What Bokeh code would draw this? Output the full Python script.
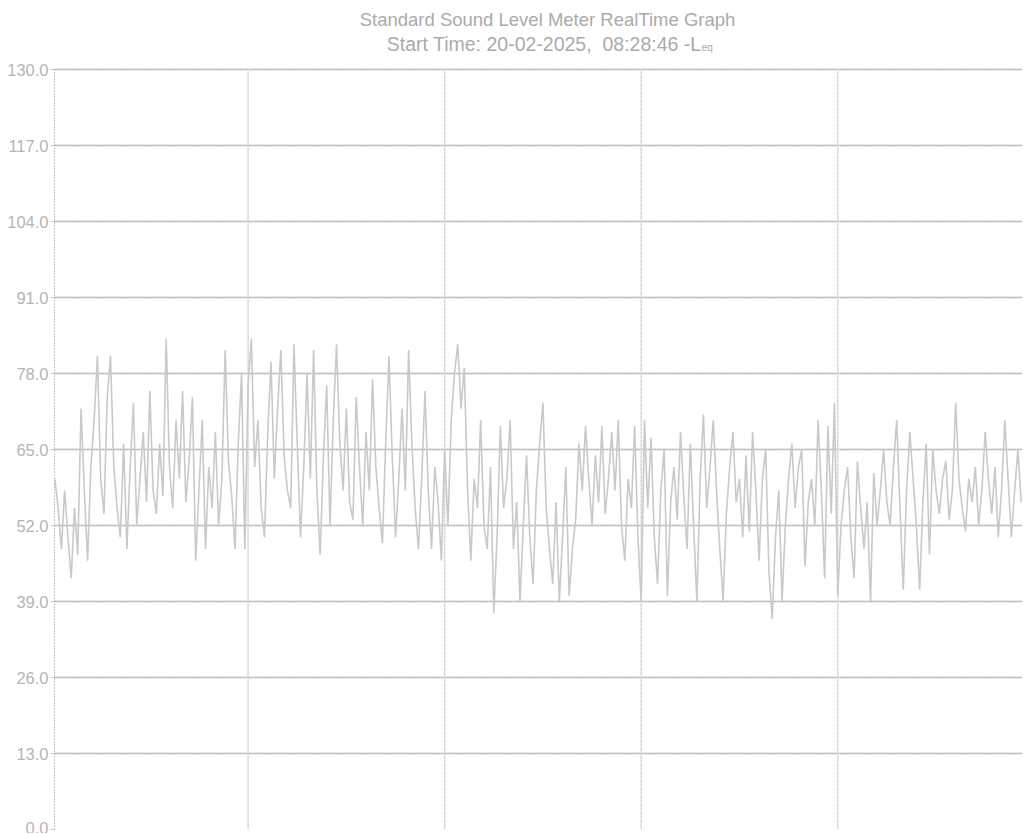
from bokeh.plotting import figure
from bokeh.models import Range1d, FixedTicker, PrintfTickFormatter, Grid
from bokeh.core.properties import value
from bokeh.embed import file_html
from bokeh.resources import INLINE

# ---- data ----
title_line1 = "Standard Sound Level Meter RealTime Graph"
title_line2 = "Start Time: 20-02-2025,\u00a0 08:28:46 -L"
title_sub = "eq"

y_ticks = [0, 13, 26, 39, 52, 65, 78, 91, 104, 117, 130]
x_grid = [60, 120, 180, 240]

leq = [
    # 1-60
    60, 55, 48, 58, 50, 43, 55, 47, 72, 58, 46, 62, 70, 81, 60, 54, 74, 81, 62, 55,
    50, 66, 48, 62, 73, 52, 60, 68, 56, 75, 58, 54, 66, 57, 84, 62, 55, 70, 60, 75,
    56, 63, 74, 46, 58, 70, 48, 62, 55, 68, 52, 60, 82, 63, 57, 48, 66, 78, 48, 76,
    # 61-120
    84, 62, 70, 55, 50, 68, 80, 60, 72, 82, 64, 58, 55, 83, 66, 50, 62, 78, 60, 82,
    58, 47, 64, 76, 52, 70, 83, 66, 58, 72, 56, 53, 74, 62, 52, 68, 58, 77, 62, 55,
    49, 66, 81, 64, 50, 60, 72, 58, 82, 66, 55, 48, 60, 75, 58, 48, 62, 56, 46, 65,
    # 121-180
    52, 70, 78, 83, 72, 79, 58, 46, 60, 55, 70, 52, 48, 62, 37, 50, 69, 55, 60, 70,
    48, 56, 39, 52, 64, 50, 42, 58, 66, 73, 55, 48, 42, 56, 39, 50, 62, 40, 48, 53,
    66, 58, 69, 60, 52, 64, 56, 69, 54, 60, 68, 58, 70, 52, 46, 60, 55, 69, 50, 39,
    # 181-240
    70, 55, 67, 50, 42, 58, 65, 40, 56, 62, 53, 68, 57, 48, 66, 52, 39, 60, 71, 55,
    62, 70, 58, 48, 39, 54, 62, 68, 56, 60, 50, 64, 51, 68, 58, 46, 60, 65, 44, 36,
    50, 58, 39, 52, 60, 66, 55, 62, 65, 45, 56, 60, 52, 70, 58, 43, 69, 54, 73, 40,
    # 241-296
    52, 58, 62, 50, 43, 63, 55, 48, 56, 39, 61, 52, 58, 65, 56, 52, 62, 70, 55, 41,
    58, 68, 60, 52, 41, 56, 66, 47, 65, 58, 54, 60, 63, 53, 58, 73, 60, 55, 51, 60,
    56, 62, 52, 58, 68, 60, 54, 62, 50, 58, 70, 60, 50, 58, 65, 56,
]
t = list(range(1, len(leq) + 1))

y_lo, y_hi = y_ticks[0], y_ticks[-1]

# ---- figure (range extends above 130 to hold the two title lines) ----
p = figure(width=1022, height=833, output_backend="svg", toolbar_location=None,
           x_range=Range1d(0.9, 296.4), y_range=Range1d(0, 140.1),
           min_border_left=54, min_border_right=0, min_border_top=10,
           min_border_bottom=4, background_fill_color="white",
           border_fill_color="white")
p.outline_line_color = None
p.xaxis.visible = False

yax = p.yaxis[0]
yax.bounds = (y_lo, y_hi)
yax.ticker = FixedTicker(ticks=y_ticks)
yax.formatter = PrintfTickFormatter(format="%.1f")
yax.major_label_text_font = "Liberation Sans"
yax.major_label_text_font_size = "16.5px"
yax.major_label_text_color = "#b4b4b4"
yax.major_label_standoff = 2
yax.major_tick_out = 4
yax.major_tick_in = 0
yax.major_tick_line_color = "#c8c8c8"
yax.minor_tick_line_color = None
yax.axis_line_color = "#8a8a8a"
yax.axis_line_dash = "1 2"
yax.axis_line_width = 1

# horizontal grid: light grey band plus fine dark dots
p.ygrid.ticker = FixedTicker(ticks=y_ticks)
p.ygrid.grid_line_color = "#d6d6d6"
p.ygrid.grid_line_width = 2
p.add_layout(Grid(dimension=1, ticker=FixedTicker(ticks=y_ticks),
                  grid_line_color="#6a6a6a", grid_line_dash="1 2",
                  grid_line_width=1, grid_line_alpha=0.55))

# vertical grid lines, only within the 0..130 band
p.xgrid.visible = False
n = len(x_grid)
p.segment(x0=x_grid, y0=[y_lo] * n, x1=x_grid, y1=[y_hi] * n,
          line_color="#e2e2e2", line_width=1.5)
p.segment(x0=x_grid, y0=[y_lo] * n, x1=x_grid, y1=[y_hi] * n,
          line_color="#9a9a9a", line_width=1, line_dash="1 3", line_alpha=0.5)

# trace
p.line(t, leq, line_color="#c9c9c9", line_width=1.6)

# titles
common = dict(text_font=value("Liberation Sans"), text_color="#ababab",
              text_baseline="alphabetic")
p.text(x=[151.4], y=[138.6], text=[title_line1], text_align="center",
       text_font_size="18.5px", **common)
p.text(x=[198.4], y=[134.35], text=[title_line2], text_align="right",
       text_font_size="19.5px", **common)
p.text(x=[198.5], y=[133.8], text=[title_sub], text_align="left",
       text_font_size="10px", **common)

open("out.html", "w").write(file_html(p, INLINE))
